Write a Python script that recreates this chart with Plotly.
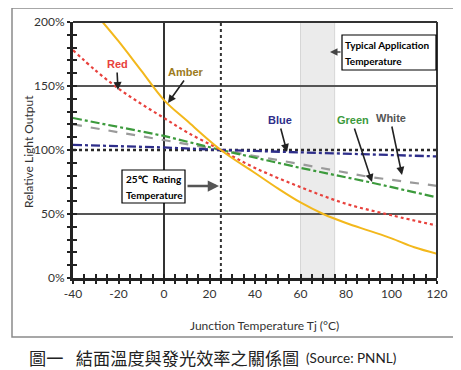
import plotly.graph_objects as go

# ---------------- data ----------------
amber_x = [-27, -20, -10, 0, 10, 25, 40, 50, 60, 70, 80, 90, 100, 110, 120]
amber_y = [200, 185, 162, 139, 123, 100, 82, 70, 59, 50, 43, 37, 31, 24, 19]

red_x = [-40, -30, -20, -10, 0, 10, 25, 40, 60, 80, 100, 120]
red_y = [178, 162, 148, 136, 125, 114, 100, 86, 71, 58, 49, 41]

blue_x = [-40, 0, 25, 60, 120]
blue_y = [104, 102, 100, 98, 95]

green_x = [-40, 0, 25, 60, 90, 120]
green_y = [125, 111, 100, 86, 75, 63]

white_x = [-40, 0, 25, 60, 90, 120]
white_y = [120, 108, 100, 89, 79, 72]

x_ticks = [-40, -20, 0, 20, 40, 60, 80, 100, 120]
x_tick_labels = ["-40", "-20", "0", "20", "40", "60", "80", "100", "120"]
y_ticks = [0, 50, 100, 150, 200]
y_tick_labels = ["0%", "50%", "100%", "150%", "200%"]

grid_levels = [50, 150]
rating_level = 100
zero_temp = 0
rating_temp = 25
app_range = [60, 75]

# ---------------- geometry helpers (reference pixel -> coords) ----------------
OFF = 8  # page body margin
W, H = 461 - OFF, 370 - OFF
L, R, T, B = 73 - OFF, 437 - OFF, 22 - OFF, 278 - OFF
XMIN, XMAX, YMIN, YMAX = -40, 120, 0, 200


def pxx(px):
    return (px - OFF - L) / (R - L)


def pyy(py):
    return (B - (py - OFF)) / (B - T)


def dx(px):
    return XMIN + pxx(px) * (XMAX - XMIN)


def dy(py):
    return YMIN + pyy(py) * (YMAX - YMIN)


fig = go.Figure()

fig.add_trace(go.Scatter(x=white_x, y=white_y, mode="lines",
                         line=dict(color="#9a9a9a", width=2.2, dash="dash"), hoverinfo="skip"))
fig.add_trace(go.Scatter(x=green_x, y=green_y, mode="lines",
                         line=dict(color="#3c9a3c", width=2.2, dash="dashdot"), hoverinfo="skip"))
fig.add_trace(go.Scatter(x=blue_x, y=blue_y, mode="lines",
                         line=dict(color="#2e2e8a", width=2.3, dash="dashdot"), hoverinfo="skip"))
fig.add_trace(go.Scatter(x=red_x, y=red_y, mode="lines", line_shape="spline",
                         line=dict(color="#e8413c", width=2.2, dash="dot"), hoverinfo="skip"))
fig.add_trace(go.Scatter(x=amber_x, y=amber_y, mode="lines", line_shape="spline",
                         line=dict(color="#f3b81c", width=2), hoverinfo="skip"))
# helper invisible trace for overlay axes (crossing tick stubs)
fig.add_trace(go.Scatter(x=[XMIN], y=[YMIN], xaxis="x2", yaxis="y2", mode="markers",
                         marker=dict(opacity=0), hoverinfo="skip"))

shapes = []
shapes.append(dict(type="rect", xref="x", yref="paper", x0=app_range[0], x1=app_range[1],
                   y0=0, y1=1, fillcolor="#ebebeb", line=dict(color="#d6d6d6", width=1), layer="below"))
for g in grid_levels:
    shapes.append(dict(type="line", xref="paper", yref="y", x0=0, x1=1, y0=g, y1=g,
                       line=dict(color="#555555", width=2), layer="below"))
shapes.append(dict(type="line", xref="paper", yref="y", x0=0, x1=1, y0=rating_level, y1=rating_level,
                   line=dict(color="#2a2a2a", width=2.5, dash="dot"), layer="below"))
shapes.append(dict(type="line", xref="x", yref="paper", x0=zero_temp, x1=zero_temp, y0=0, y1=1,
                   line=dict(color="#333333", width=2), layer="below"))
shapes.append(dict(type="line", xref="x", yref="paper", x0=rating_temp, x1=rating_temp, y0=0, y1=1,
                   line=dict(color="#333333", width=2, dash="dot"), layer="below"))
shapes.append(dict(type="line", xref="paper", yref="paper", x0=0, x1=1, y0=1, y1=1,
                   line=dict(color="#333333", width=2)))
shapes.append(dict(type="line", xref="paper", yref="paper", x0=1, x1=1, y0=0, y1=1,
                   line=dict(color="#333333", width=2)))
shapes.append(dict(type="rect", xref="paper", yref="paper", x0=pxx(12), x1=pxx(458),
                   y0=pyy(337), y1=pyy(8), line=dict(color="#8a8a8a", width=1.5)))
shapes.append(dict(type="rect", xref="paper", yref="paper", x0=pxx(342), x1=pxx(436),
                   y0=pyy(70), y1=pyy(35), fillcolor="white", line=dict(color="black", width=1.2)))
shapes.append(dict(type="rect", xref="paper", yref="paper", x0=pxx(122), x1=pxx(185),
                   y0=pyy(203), y1=pyy(170), fillcolor="white", line=dict(color="black", width=1.2)))

ann = []
box_font = dict(family="Lato, sans-serif", size=10, color="black")
for txt, px, py in [("<b>Typical Application</b>", 343, 45), ("<b>Temperature</b>", 343, 61),
                    ("<b>25℃  Rating</b>", 124, 179), ("<b>Temperature</b>", 124, 195)]:
    ann.append(dict(text=txt, xref="paper", yref="paper", x=pxx(px), y=pyy(py),
                    xanchor="left", yanchor="middle", showarrow=False, font=box_font))
ann.append(dict(text="", x=dx(330), y=dy(52), xref="x", yref="y", ax=dx(342), ay=dy(52),
                axref="x", ayref="y", showarrow=True, arrowhead=2, arrowsize=1, arrowwidth=1.5,
                arrowcolor="#444444"))
ann.append(dict(text="", x=dx(219), y=dy(186), xref="x", yref="y", ax=dx(186), ay=dy(186),
                axref="x", ayref="y", showarrow=True, arrowhead=2, arrowsize=0.9, arrowwidth=2.5,
                arrowcolor="#555555"))

lab_font = "Liberation Sans Narrow, Arial Narrow, sans-serif"
labels = [("<b>Red</b>", "#e8413c", 117, 64, 118, 90),
          ("<b>Amber</b>", "#9c7b1c", 186, 72, 168, 103),
          ("<b>Blue</b>", "#2e2e8a", 280, 120, 287, 152),
          ("<b>Green</b>", "#3c9a3c", 353, 120, 372, 182),
          ("<b>White</b>", "#555555", 391, 118, 402, 175)]
for txt, col, tx, ty, hx, hy in labels:
    ann.append(dict(text=txt, xref="paper", yref="paper", x=pxx(tx), y=pyy(ty), showarrow=False,
                    xanchor="center", yanchor="middle",
                    font=dict(family=lab_font, size=11, color=col)))
    ann.append(dict(text="", x=dx(hx), y=dy(hy), xref="x", yref="y", ax=dx(tx + (hx - tx) * 0.05),
                    ay=dy(ty + 7), axref="x", ayref="y", showarrow=True, arrowhead=2, arrowsize=1,
                    arrowwidth=1.6, arrowcolor="#222222"))

text_font = dict(family="Lato, sans-serif", size=12, color="#333333")
ann.append(dict(text="Junction Temperature Tj (°C)", xref="paper", yref="paper", x=pxx(264), y=pyy(325),
                xanchor="center", yanchor="middle", showarrow=False, font=text_font))
ann.append(dict(text="Relative Light Output", xref="paper", yref="paper", x=pxx(28), y=pyy(152),
                xanchor="center", yanchor="middle", showarrow=False, textangle=-90, font=text_font))
ann.append(dict(text="圖一\u2002 結面溫度與發光效率之關係圖", xref="paper", yref="paper", x=pxx(27), y=pyy(357),
                xanchor="left", yanchor="middle", showarrow=False,
                font=dict(family="Noto Sans CJK TC", size=17.2, color="#222222")))
ann.append(dict(text="(Source: PNNL)", xref="paper", yref="paper", x=pxx(304), y=pyy(358),
                xanchor="left", yanchor="middle", showarrow=False,
                font=dict(family="Lato, sans-serif", size=13.5, color="#222222")))

fig.update_layout(
    width=W, height=H,
    margin=dict(l=L, r=W - R, t=T, b=H - B, autoexpand=False),
    paper_bgcolor="white", plot_bgcolor="white",
    showlegend=False,
    shapes=shapes, annotations=ann,
    xaxis=dict(range=[XMIN, XMAX], tickvals=x_ticks, ticktext=x_tick_labels, showgrid=False,
               zeroline=False, showline=True, linecolor="#222222", linewidth=3,
               ticks="outside", ticklen=3, tickwidth=2, tickcolor="#222222",
               minor=dict(dtick=5, ticks="outside", ticklen=3, tickwidth=2, tickcolor="#222222"),
               tickfont=dict(family="Lato, sans-serif", size=12, color="#333333")),
    yaxis=dict(range=[YMIN, YMAX], tickvals=y_ticks, ticktext=y_tick_labels, showgrid=False,
               zeroline=False, showline=True, linecolor="#222222", linewidth=3,
               ticks="outside", ticklen=3, tickwidth=2, tickcolor="#222222",
               minor=dict(dtick=10, ticks="outside", ticklen=3, tickwidth=2, tickcolor="#222222"),
               tickfont=dict(family="Lato, sans-serif", size=12, color="#333333")),
    xaxis2=dict(range=[XMIN, XMAX], overlaying="x", anchor="y", side="bottom", dtick=5, tick0=0,
                ticks="inside", ticklen=4, tickwidth=2, tickcolor="#222222", showticklabels=False,
                showgrid=False, zeroline=False, showline=False),
    yaxis2=dict(range=[YMIN, YMAX], overlaying="y", anchor="x", side="left", dtick=10, tick0=0,
                ticks="inside", ticklen=4, tickwidth=2, tickcolor="#222222", showticklabels=False,
                showgrid=False, zeroline=False, showline=False),
)

fig.write_html("out.html")
